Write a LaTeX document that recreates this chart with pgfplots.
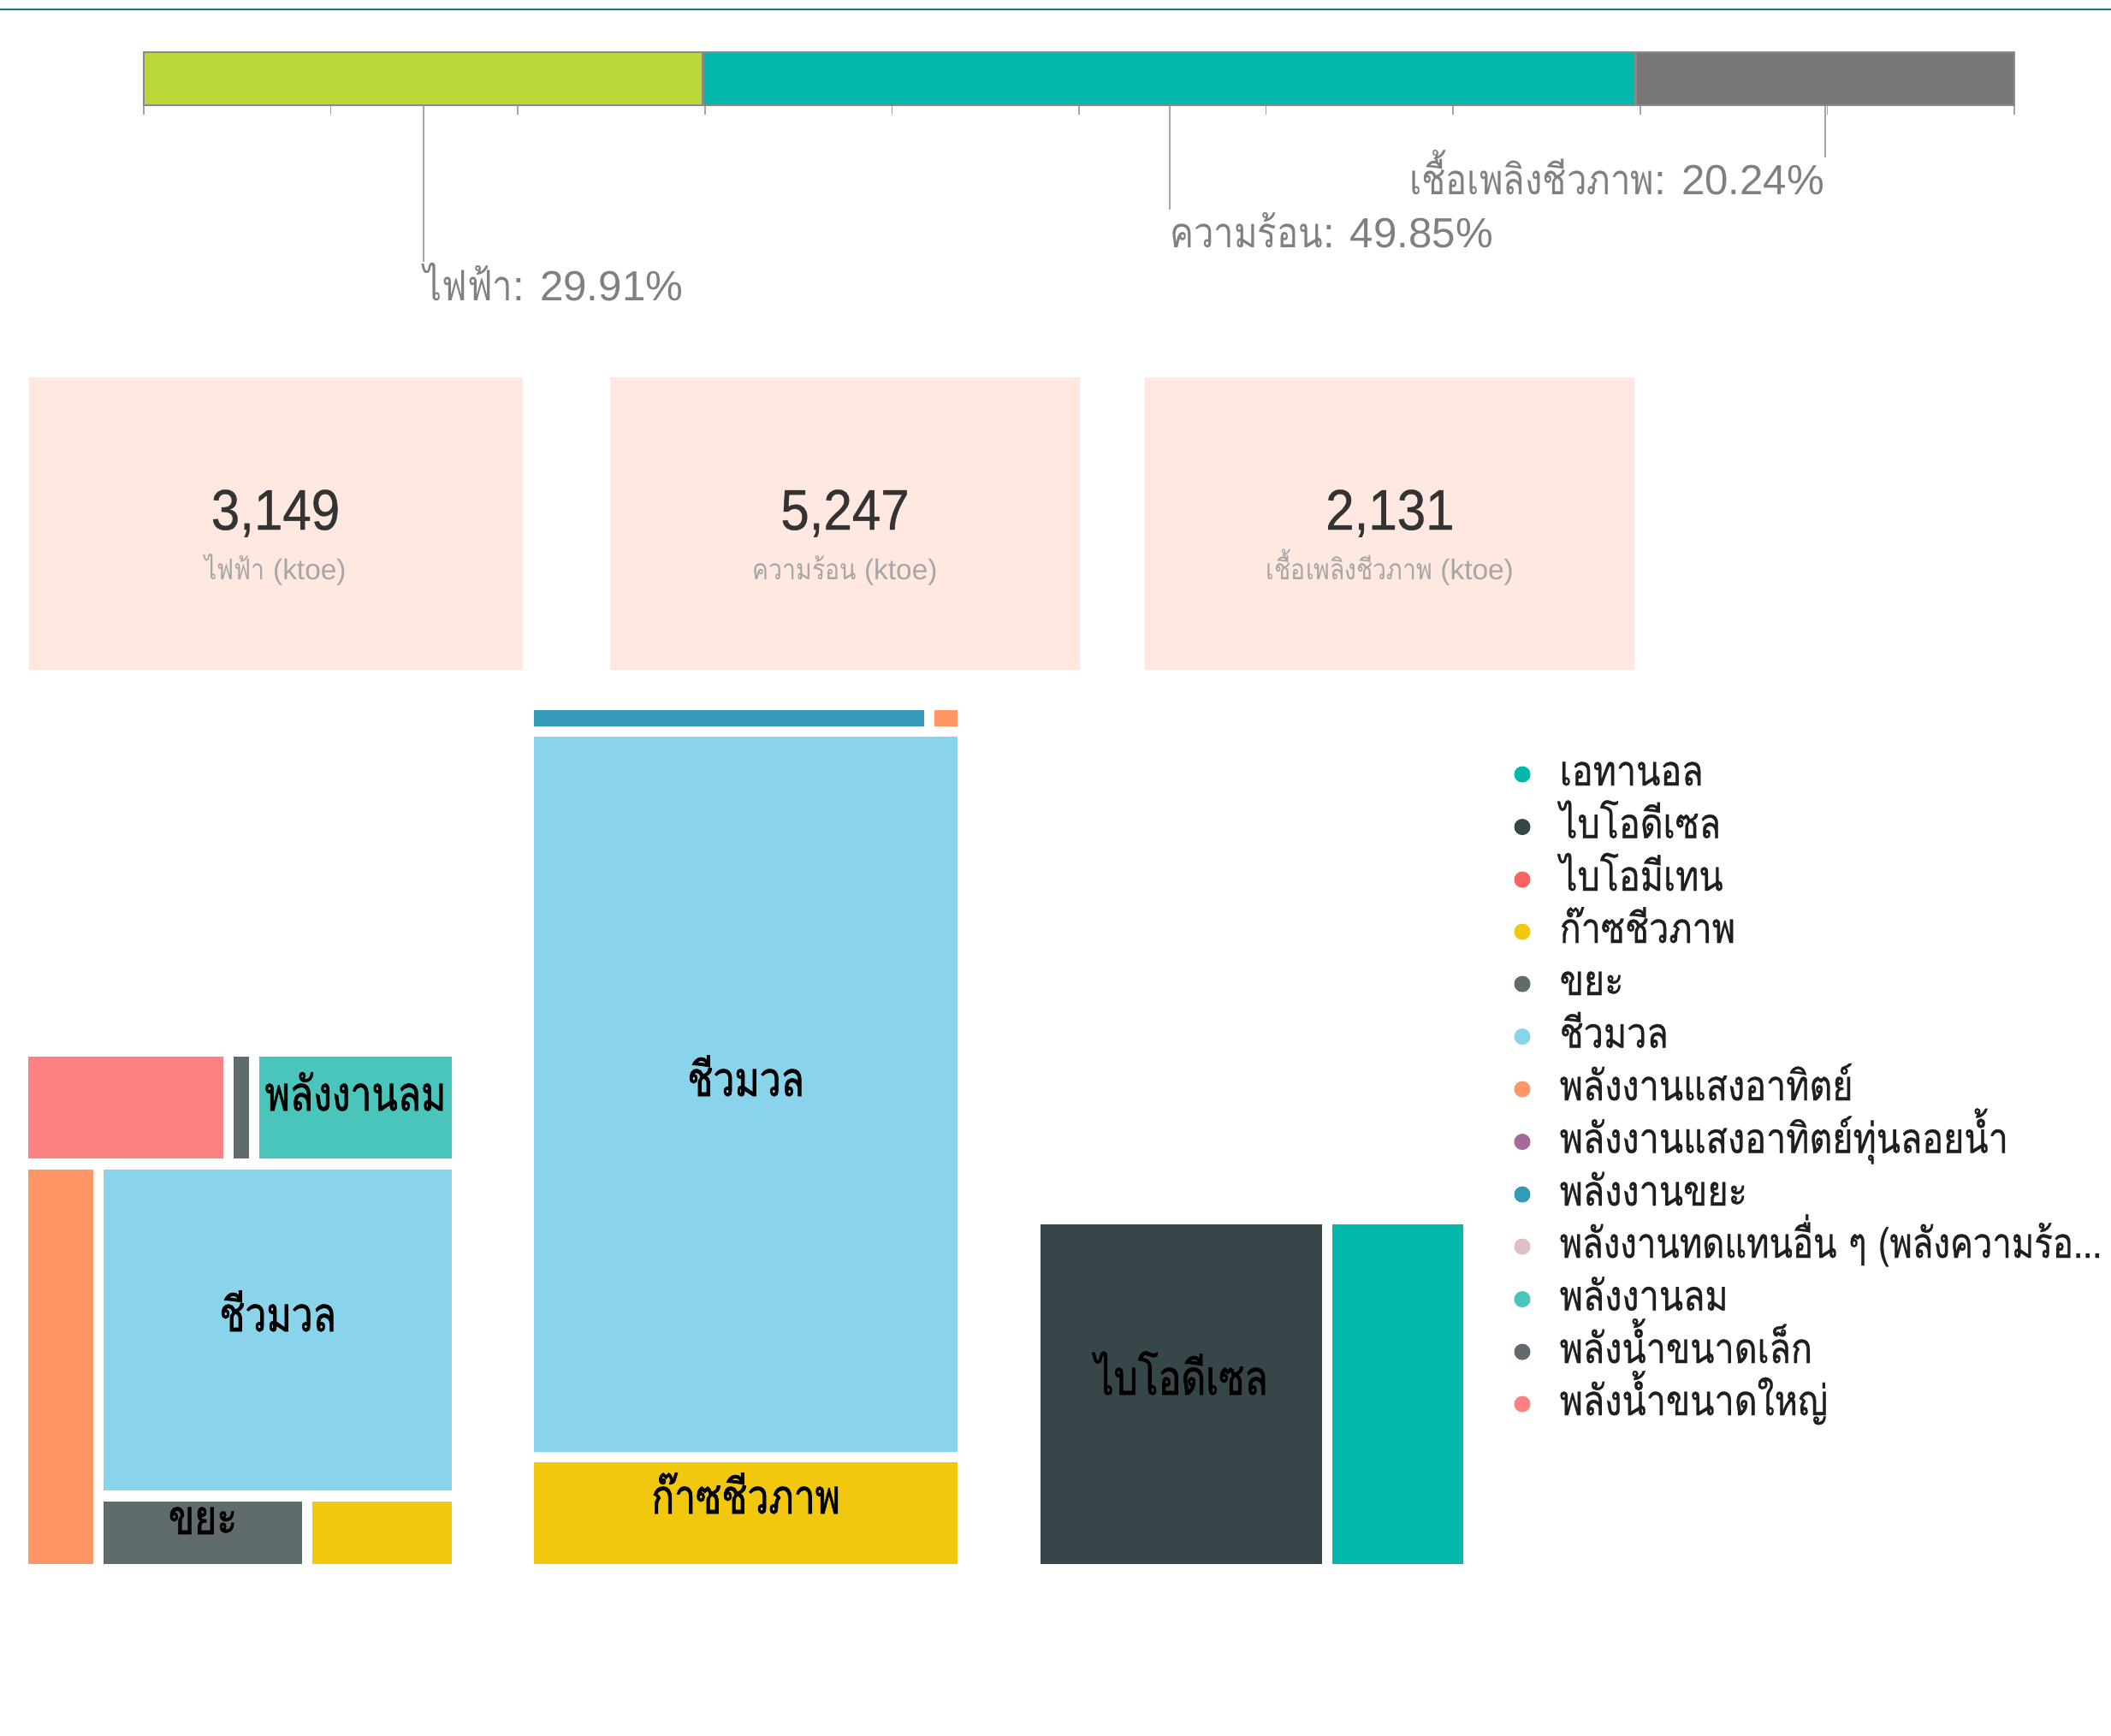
\documentclass[border=0pt]{standalone}
\usepackage{pgfplots}
\pgfplotsset{compat=1.18}
\usepackage{fontspec}
\setmainfont{Liberation Sans}
\newfontfamily\thai[Script=Thai, FakeStretch=0.85]{Loma}
\newfontfamily\thaileg[Script=Thai, FakeStretch=0.84, FakeBold=0.6]{Loma}
\newfontfamily\thailegn[Script=Thai, FakeStretch=0.815, FakeBold=0.6]{Loma}
\newfontfamily\thaib[Script=Thai, FakeStretch=0.79, FakeBold=1.2]{Loma}
\newfontfamily\kpi[FakeStretch=0.9, FakeBold=0.6]{Liberation Sans}
\definecolor{topline}{HTML}{127C7B}
\definecolor{barGreen}{HTML}{BBD83A}
\definecolor{barTeal}{HTML}{01B8AA}
\definecolor{barGray}{HTML}{7A7876}
\definecolor{barEdge}{HTML}{8A8A8A}
\definecolor{lblgray}{HTML}{808080}
\definecolor{kpibg}{HTML}{FFE8E0}
\definecolor{kpinum}{HTML}{333333}
\definecolor{kpisub}{HTML}{A6A6A6}
\definecolor{cEth}{HTML}{01B8AA}
\definecolor{cBiod}{HTML}{374649}
\definecolor{cBiom}{HTML}{FD625E}
\definecolor{cGas}{HTML}{F2C80F}
\definecolor{cWaste}{HTML}{5F6B6D}
\definecolor{cBio}{HTML}{8AD4EB}
\definecolor{cSolar}{HTML}{FE9666}
\definecolor{cFloat}{HTML}{A66999}
\definecolor{cWasteE}{HTML}{3599B8}
\definecolor{cOther}{HTML}{DFBFBF}
\definecolor{cWind}{HTML}{4AC5BB}
\definecolor{cHydS}{HTML}{5F6B6D}
\definecolor{cHydL}{HTML}{FB8281}
\newcommand\tile[5]{\addplot[fill=#1,draw=none] coordinates {(#2,#3) (#4,#3) (#4,#5) (#2,#5)};}
\newcommand\legitem[3]{\addplot[only marks, mark=*, mark size=2.5pt, color=#1] coordinates {(1779,#2)};
  \node[anchor=base west, inner sep=0, text=black!88, font=\thaileg\fontsize{14}{14}\selectfont] at (axis cs:1822,#2+13) {#3};}
\newcommand\tlabel[3]{\node[anchor=base, inner sep=0, text=black, font=\thaib\fontsize{16}{16}\selectfont] at (axis cs:#1,#2) {#3};}
\begin{document}
\begin{tikzpicture}
\useasboundingbox (0,0) rectangle (24.67cm,-20.28cm);
\begin{axis}[at={(0,0)}, anchor=north west, scale only axis, width=24.67cm, height=20.28cm,
  xmin=0, xmax=2467, ymin=0, ymax=2028, y dir=reverse, hide axis, clip=false]
% top rule
\addplot[color=topline, line width=0.7pt] coordinates {(0,11) (2467,11)};
% KPI cards
\tile{kpibg}{33.6}{441}{610.7}{782.6}
\tile{kpibg}{712.7}{441}{1262.4}{782.6}
\tile{kpibg}{1338.3}{441}{1910.4}{782.6}
\node[anchor=base, inner sep=0, text=kpinum, font=\kpi\fontsize{19}{19}\selectfont] at (axis cs:322,619) {3,149};
\node[anchor=base, inner sep=0, text=kpinum, font=\kpi\fontsize{19}{19}\selectfont] at (axis cs:987.5,619) {5,247};
\node[anchor=base, inner sep=0, text=kpinum, font=\kpi\fontsize{19}{19}\selectfont] at (axis cs:1624.4,619) {2,131};
\node[anchor=base, inner sep=0, text=kpisub, font=\fontsize{9.5}{9.5}\selectfont] at (axis cs:322,677) {{\thai ไฟฟ้า} (ktoe)};
\node[anchor=base, inner sep=0, text=kpisub, font=\fontsize{9.5}{9.5}\selectfont] at (axis cs:987.5,677) {{\thai ความร้อน} (ktoe)};
\node[anchor=base, inner sep=0, text=kpisub, font=\fontsize{9.5}{9.5}\selectfont] at (axis cs:1624.4,677) {{\thai เชื้อเพลิงชีวภาพ} (ktoe)};
% treemap 1: electricity
\tile{cHydL}{33}{1234.5}{261.1}{1354.1}
\tile{cHydS}{272.8}{1234.5}{291.2}{1354.1}
\tile{cWind}{302.9}{1234.5}{528.1}{1354.1}
\tile{cSolar}{33}{1366.9}{109.3}{1827.7}
\tile{cBio}{121}{1366.9}{528.1}{1741.9}
\tile{cWaste}{121}{1754.7}{352.8}{1827.7}
\tile{cGas}{365.2}{1754.7}{528.1}{1827.7}
\tlabel{415.5}{1298}{พลังงานลม}
\tlabel{324.6}{1556}{ชีวมวล}
\tlabel{237}{1793}{ขยะ}
% treemap 2: heat
\tile{cWasteE}{624.1}{830.4}{1080.3}{848.6}
\tile{cSolar}{1092}{830.4}{1119.2}{848.6}
\tile{cBio}{624.1}{860.8}{1119.2}{1696.6}
\tile{cGas}{624.1}{1708.8}{1119.2}{1827.7}
\tlabel{871.6}{1281}{ชีวมวล}
\tlabel{871.6}{1769}{ก๊าซชีวภาพ}
% treemap 3: biofuel
\tile{cBiod}{1216}{1430.5}{1545}{1827.7}
\tile{cEth}{1557}{1430.5}{1710}{1827.7}
\tlabel{1380.5}{1630}{ไบโอดีเซล}
% legend
\legitem{cEth}{905}{เอทานอล}
\legitem{cBiod}{966.5}{ไบโอดีเซล}
\legitem{cBiom}{1028}{ไบโอมีเทน}
\legitem{cGas}{1089}{ก๊าซชีวภาพ}
\legitem{cWaste}{1150}{ขยะ}
\legitem{cBio}{1211.5}{ชีวมวล}
\legitem{cSolar}{1273}{พลังงานแสงอาทิตย์}
\legitem{cFloat}{1334.5}{พลังงานแสงอาทิตย์ทุ่นลอยน้ำ}
\legitem{cWasteE}{1396}{พลังงานขยะ}
\legitem{cOther}{1457}{{\thailegn พลังงานทดแทนอื่น ๆ (พลังความร้อ...}}
\legitem{cWind}{1518.5}{พลังงานลม}
\legitem{cHydS}{1580}{พลังน้ำขนาดเล็ก}
\legitem{cHydL}{1641}{พลังน้ำขนาดใหญ่}
\end{axis}
% top stacked share bar
\begin{axis}[at={(1.68cm,-0.61cm)}, anchor=north west, scale only axis, width=21.86cm, height=0.62cm,
  xmin=0, xmax=100, ymin=-0.5, ymax=0.5, xbar stacked, bar width=0.62cm,
  axis x line*=bottom, axis y line=none, x axis line style={draw=barEdge, line width=0.8pt, -},
  xtick={0,10,...,100}, xticklabels={}, ytick=\empty, tick align=outside, major tick length=0.11cm,
  tick style={draw=gray!70, line width=0.5pt}, clip=false]
\addplot[fill=barGreen, draw=barEdge, line width=0.8pt] coordinates {(29.91,0)};
\addplot[fill=barTeal, draw=barEdge, line width=0.8pt] coordinates {(49.85,0)};
\addplot[fill=barGray, draw=barEdge, line width=0.8pt] coordinates {(20.24,0)};
\draw[gray!70, line width=0.5pt] (axis cs:14.955,-0.5) -- (axis cs:14.955,-3.45);
\draw[gray!70, line width=0.5pt] (axis cs:54.835,-0.5) -- (axis cs:54.835,-2.47);
\draw[gray!70, line width=0.5pt] (axis cs:89.88,-0.5) -- (axis cs:89.88,-1.48);
\node[anchor=base west, inner sep=0, text=lblgray, font=\fontsize{14}{14}\selectfont] at (axis cs:14.955,-4.19) {{\thai ไฟฟ้า}: 29.91\%};
\node[anchor=base west, inner sep=0, text=lblgray, font=\fontsize{14}{14}\selectfont] at (axis cs:54.835,-3.19) {{\thai ความร้อน}: 49.85\%};
\node[anchor=base east, inner sep=0, text=lblgray, font=\fontsize{14}{14}\selectfont] at (axis cs:89.88,-2.19) {{\thai เชื้อเพลิงชีวภาพ}: 20.24\%};
\end{axis}
\end{tikzpicture}
\end{document}
